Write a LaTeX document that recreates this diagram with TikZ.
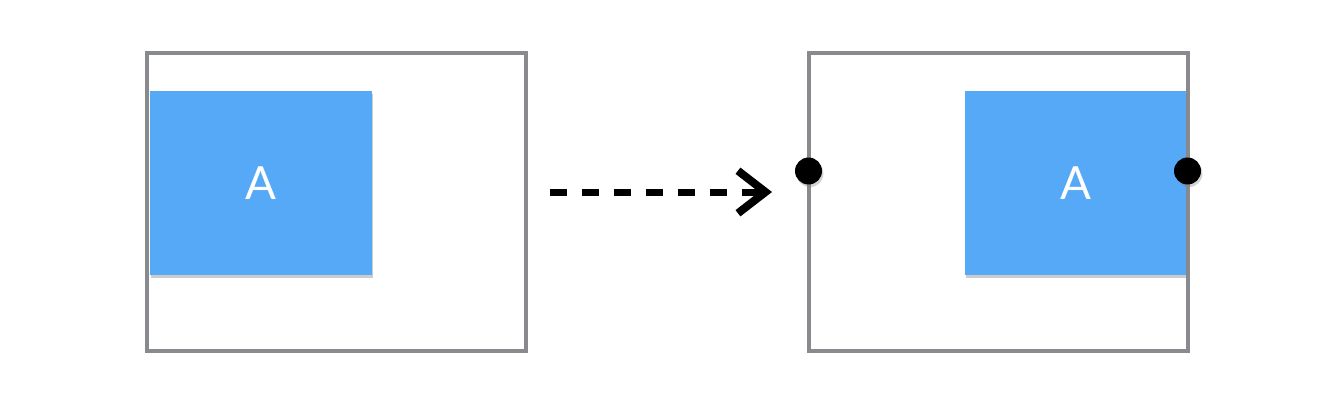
\documentclass[tikz,border=0pt]{standalone}
\usepackage{fontspec}
\setsansfont{Lato}
\usetikzlibrary{arrows.meta,shadows}

\definecolor{framegray}{HTML}{888A8E}
\definecolor{boxblue}{HTML}{55A9F6}

\tikzset{
  frame/.style={draw=framegray,line width=0.07cm,minimum width=7.58cm,minimum height=5.96cm},
  bluebox/.style={fill=boxblue,minimum width=4.44cm,minimum height=3.68cm,
    text=white,font=\sffamily\fontsize{26}{30}\selectfont,
    drop shadow={shadow xshift=0.8pt,shadow yshift=-1.5pt,opacity=0.4}},
  anchordot/.style={circle,fill=black,minimum size=0.54cm,inner sep=0pt,
    drop shadow={shadow xshift=0.8pt,shadow yshift=-1.5pt,opacity=0.35}},
  movearrow/.style={line width=0.14cm,dash pattern=on 0.34cm off 0.3cm,
    -{Straight Barb[length=0.55cm,width=0.85cm,line width=0.16cm]}}
}

\begin{document}
\begin{tikzpicture}[x=0.02cm,y=-0.02cm]
  \useasboundingbox (0,0) rectangle (1334,402);

  % before
  \node[frame] (before) at (336.5,202) {};
  \node[bluebox] (boxa) at (261,183) {A};

  % after
  \node[frame] (after) at (998.5,202) {};
  \node[bluebox,minimum width=4.42cm] (boxb) at (1075.5,183) {A};
  \node[anchordot] (dotleft) at (808.5,171) {};
  \node[anchordot] (dotright) at (1187.5,171) {};

  % move
  \coordinate (movestart) at (550,192);
  \coordinate (moveend) at (772,192);
  \draw[movearrow] (movestart) -- (moveend);
\end{tikzpicture}
\end{document}
